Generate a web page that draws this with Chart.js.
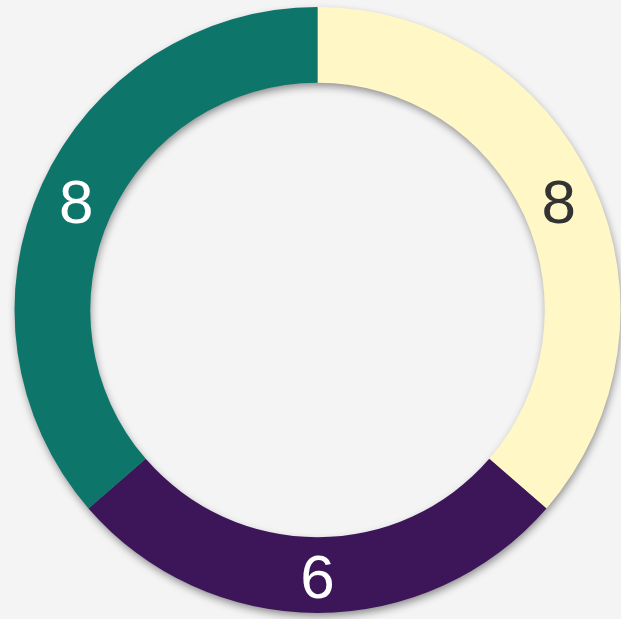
<!DOCTYPE html>
<html>
<head>
<meta charset="utf-8">
<script src="https://cdn.jsdelivr.net/npm/chart.js@4"></script>
<style>
  html, body { margin: 0; padding: 0; background: #f4f4f4; }
  #wrap { width: 621px; height: 619px; }
</style>
</head>
<body>
<div id="wrap"><canvas id="myChart"></canvas></div>
<script>
// data
let labels = ["A", "B", "C"],
  values = [8, 6, 8],
  colors = ["#fff8c6", "#3d1659", "#0e756a"],
  textColors = ["#333333", "#ffffff", "#ffffff"];

// one shadow for the whole ring, drawn under the arcs
const shadowPlugin = {
  id: "shadow",
  beforeDatasetsDraw(chart) {
    let ctx = chart.ctx,
      arc = chart.getDatasetMeta(0).data[0];
    ctx.save();
    ctx.shadowColor = "rgba(0,0,0,0.45)";
    ctx.shadowBlur = 8;
    ctx.shadowOffsetX = 1;
    ctx.shadowOffsetY = 4;
    ctx.fillStyle = "#888";
    ctx.beginPath();
    ctx.arc(arc.x, arc.y, arc.outerRadius - 1, 0, Math.PI * 2);
    ctx.arc(arc.x, arc.y, arc.innerRadius + 1, 0, Math.PI * 2, true);
    ctx.fill();
    ctx.restore();
  }
};

// value labels in the middle of each arc
const labelPlugin = {
  id: "arcLabels",
  afterDatasetsDraw(chart) {
    let ctx = chart.ctx;
    chart.getDatasetMeta(0).data.forEach((arc, i) => {
      let p = arc.tooltipPosition();
      ctx.save();
      ctx.font = "62px 'Liberation Sans', Arial, sans-serif";
      ctx.fillStyle = textColors[i];
      ctx.textAlign = "center";
      ctx.textBaseline = "middle";
      ctx.fillText(values[i], p.x, p.y + 6);
      ctx.restore();
    });
  }
};

new Chart(document.getElementById("myChart"), {
  type: "doughnut",
  data: {
    labels: labels,
    datasets: [{
      data: values,
      backgroundColor: colors,
      borderWidth: 0
    }]
  },
  options: {
    responsive: true,
    maintainAspectRatio: false,
    animation: false,
    cutout: "75%",
    layout: { padding: { left: 14, right: 0, top: 7, bottom: 6 } },
    plugins: {
      legend: { display: false },
      tooltip: { enabled: false }
    }
  },
  plugins: [shadowPlugin, labelPlugin]
});
</script>
</body>
</html>
